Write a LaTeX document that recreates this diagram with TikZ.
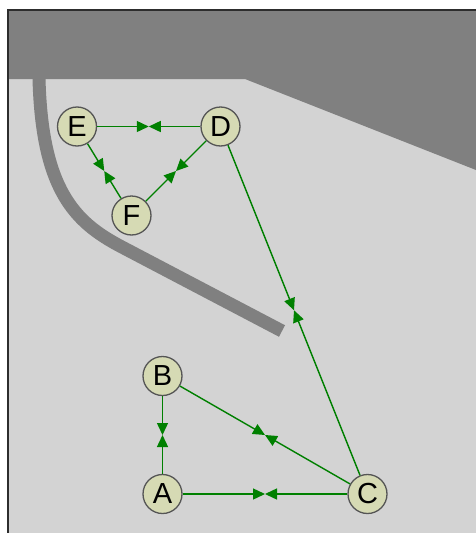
\documentclass[tikz,border=0pt]{standalone}
\usepackage{fontspec}
\setmainfont{Liberation Sans}
\usetikzlibrary{arrows.meta,calc}
\definecolor{bglight}{RGB}{211,211,211}
\definecolor{bgdark}{RGB}{128,128,128}
\definecolor{nodefill}{RGB}{214,218,180}
\definecolor{nodeline}{RGB}{85,85,85}
\definecolor{edgegreen}{RGB}{0,128,0}
\definecolor{framecol}{RGB}{45,45,45}
\tikzset{
  vertex/.style={circle,draw=nodeline,line width=1.3pt,fill=nodefill,minimum size=39pt,inner sep=0pt,font=\fontsize{29}{29}\selectfont},
  halfedge/.style={draw=edgegreen,line width=1.4pt,-{Triangle[length=12pt,width=11pt]},edgegreen}
}
\begin{document}
\begin{tikzpicture}[x=1pt,y=-1pt]
\useasboundingbox (0,0) rectangle (476,533);
\fill[white] (0,0) rectangle (476,533);
\fill[bglight] (8,10) rectangle (476,533);
\fill[bgdark] (8,10) -- (476,10) -- (476,170) -- (245,79) -- (8,79) -- cycle;
\draw[bgdark,line width=13pt] (39,79) .. controls (42,190) and (75,222) .. (120,246) -- (282,331);
\draw[framecol,line width=1.5pt] (8,533) -- (8,10) -- (476,10);
\node[vertex] (E) at (77,126.5) {E};
\node[vertex] (D) at (220.5,126.5) {D};
\node[vertex] (F) at (131.5,215.5) {F};
\node[vertex] (B) at (162.5,376) {B};
\node[vertex] (A) at (162.5,494) {A};
\node[vertex] (C) at (367.5,494) {C};
\foreach \u/\v in {E/D,E/F,D/F,D/C,B/A,B/C,A/C}{
  \coordinate (m\u\v) at ($(\u)!0.5!(\v)$);
  \draw[halfedge] (\u) -- (m\u\v);
  \draw[halfedge] (\v) -- (m\u\v);
}
\end{tikzpicture}
\end{document}
